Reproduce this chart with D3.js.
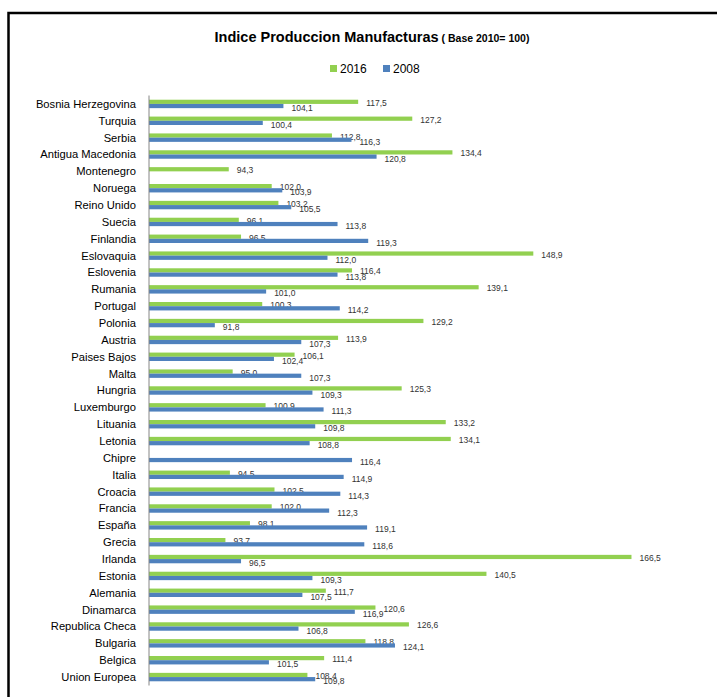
<!DOCTYPE html>
<html>
<head>
<meta charset="utf-8">
<title>Indice Produccion Manufacturas</title>
<script src="https://cdn.jsdelivr.net/npm/d3@7"></script>
<style>
    body { margin: 0; background: #fff; }
    svg { display: block; font-family: "Liberation Sans", Arial, sans-serif; }
</style>
</head>
<body>
<svg id="chart" width="717" height="697"></svg>
<script>
    // data (null = no bar)
    const countries = ["Bosnia Herzegovina", "Turquia", "Serbia", "Antigua Macedonia", "Montenegro",
        "Noruega", "Reino Unido", "Suecia", "Finlandia", "Eslovaquia", "Eslovenia", "Rumania",
        "Portugal", "Polonia", "Austria", "Paises Bajos", "Malta", "Hungria", "Luxemburgo",
        "Lituania", "Letonia", "Chipre", "Italia", "Croacia", "Francia", "España", "Grecia",
        "Irlanda", "Estonia", "Alemania", "Dinamarca", "Republica Checa", "Bulgaria", "Belgica",
        "Union Europea"];
    const v2016 = [117.5, 127.2, 112.8, 134.4, 94.3, 102.0, 103.2, 96.1, 96.5, 148.9, 116.4, 139.1,
        100.3, 129.2, 113.9, 106.1, 95.0, 125.3, 100.9, 133.2, 134.1, null, 94.5, 102.5, 102.0, 98.1,
        93.7, 166.5, 140.5, 111.7, 120.6, 126.6, 118.8, 111.4, 108.4];
    const v2008 = [104.1, 100.4, 116.3, 120.8, null, 103.9, 105.5, 113.8, 119.3, 112.0, 113.8, 101.0,
        114.2, 91.8, 107.3, 102.4, 107.3, 109.3, 111.3, 109.8, 108.8, 116.4, 114.9, 114.3, 112.3, 119.1,
        118.6, 96.5, 109.3, 107.5, 116.9, 106.8, 124.1, 101.5, 109.8];
    const seriesNames = ["2016", "2008"];
    const colors = ["#92D050", "#4F81BD"];
    const xDomain = [80, 170];

    const svg = d3.select("#chart");
    const fmt = v => d3.format(".1f")(v).replace(".", ",");

    // outer frame
    svg.append("rect")
        .attr("x", 8.5).attr("y", 13)
        .attr("width", 740).attr("height", 720)
        .attr("fill", "none").attr("stroke", "#000").attr("stroke-width", 2.5);

    // title
    const title = svg.append("text")
        .attr("x", 372).attr("y", 42)
        .attr("text-anchor", "middle")
        .attr("font-weight", "bold")
        .attr("fill", "#000");
    title.append("tspan").attr("font-size", 14.5).text("Indice Produccion Manufacturas");
    title.append("tspan").attr("font-size", 10.5).attr("dx", 3).text("( Base 2010= 100)");

    // legend
    const legend = svg.append("g").attr("transform", "translate(330,69)");
    seriesNames.forEach((s, i) => {
        const g = legend.append("g").attr("transform", `translate(${i * 53},0)`);
        g.append("rect").attr("x", 0).attr("y", -4).attr("width", 7).attr("height", 7).attr("fill", colors[i]);
        g.append("text").attr("x", 10).attr("y", 4).attr("font-size", 12).attr("fill", "#000").text(s);
    });

    const x = d3.scaleLinear().domain(xDomain).range([149, 651]);
    const y = d3.scaleBand().domain(countries).range([95.5, 685.5]).paddingInner(0).paddingOuter(0);
    const sub = d3.scaleBand().domain(seriesNames).range([y.bandwidth() * 0.25, y.bandwidth() * 0.75]);

    const rows = svg.append("g").selectAll("g")
        .data(countries)
        .join("g")
        .attr("transform", d => `translate(0,${y(d)})`);

    // category labels
    rows.append("text")
        .attr("x", 136)
        .attr("y", y.bandwidth() / 2 + 4)
        .attr("text-anchor", "end")
        .attr("font-size", 11.2)
        .attr("fill", "#000")
        .text(d => d);

    const allSeries = [v2016, v2008];
    allSeries.forEach((vals, si) => {
        rows.filter((d, i) => vals[i] != null)
            .append("rect")
            .attr("x", x(xDomain[0]))
            .attr("y", sub(seriesNames[si]))
            .attr("width", d => x(vals[countries.indexOf(d)]) - x(xDomain[0]))
            .attr("height", sub.bandwidth())
            .attr("fill", colors[si]);

        rows.filter((d, i) => vals[i] != null)
            .append("text")
            .attr("x", d => x(vals[countries.indexOf(d)]) + 8)
            .attr("y", sub(seriesNames[si]) + sub.bandwidth() / 2 + 4 + si)
            .attr("font-size", 8.5)
            .attr("fill", "#333")
            .text(d => fmt(vals[countries.indexOf(d)]));
    });

    // category axis line
    svg.append("line")
        .attr("x1", x(xDomain[0])).attr("x2", x(xDomain[0]))
        .attr("y1", y.range()[0]).attr("y2", y.range()[1])
        .attr("stroke", "#868686").attr("stroke-width", 1);
</script>
</body>
</html>
